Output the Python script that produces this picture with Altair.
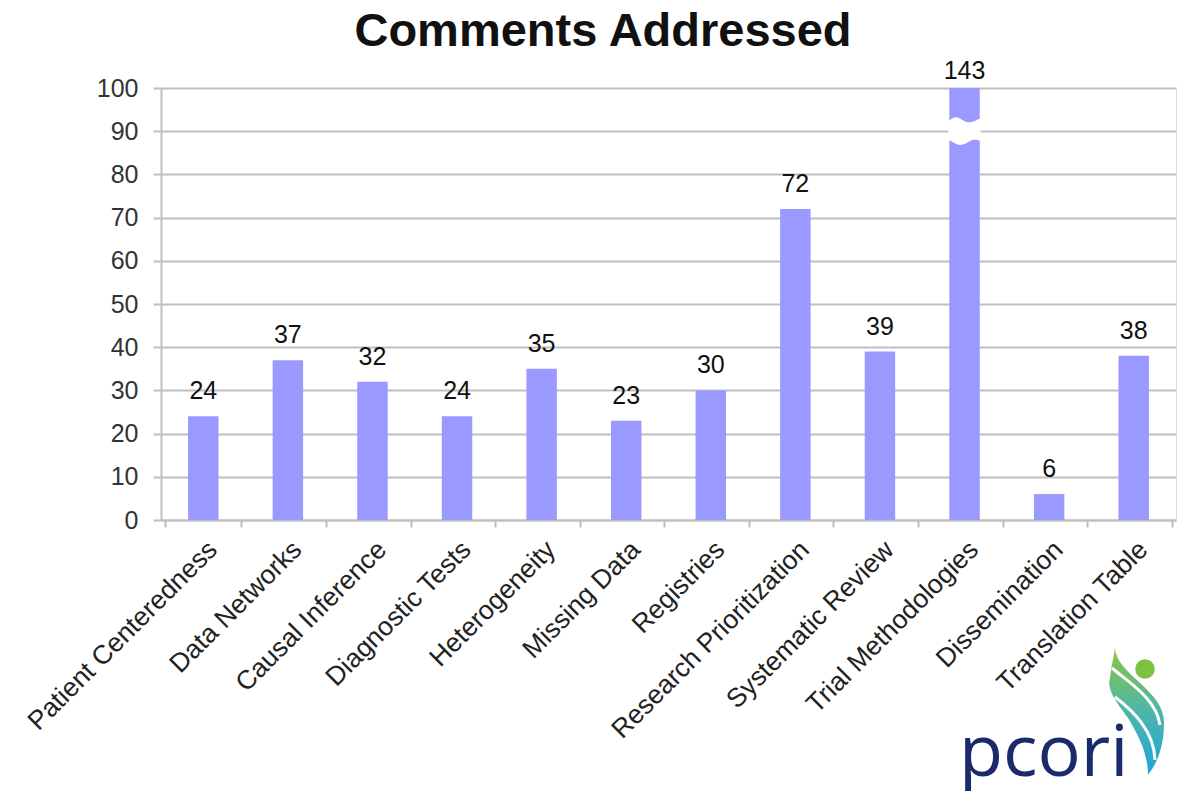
import altair as alt
import pandas as pd

categories = ["Patient Centeredness", "Data Networks", "Causal Inference", "Diagnostic Tests",
              "Heterogeneity", "Missing Data", "Registries", "Research Prioritization",
              "Systematic Review", "Trial Methodologies", "Dissemination", "Translation Table"]
values = [24, 37, 32, 24, 35, 23, 30, 72, 39, 143, 6, 38]
axis_max = 100
break_at = 90
title_text = "Comments Addressed"

df = pd.DataFrame({"cat": categories, "value": values})
df["shown"] = df["value"].clip(upper=axis_max)

FONT = "Liberation Sans"
BAR = "#9999FF"
GRID = "#BFBFBF"
FS = 25

base = alt.Chart(df)

x_enc = alt.X("cat:N", sort=categories, title=None,
              axis=alt.Axis(labelAngle=-45, labelAlign="right", labelBaseline="top",
                            labelFontSize=26.5, labelFont=FONT, labelColor="#222222",
                            labelPadding=9, domainColor=GRID, domainWidth=2,
                            tickColor=GRID, tickWidth=2, tickSize=7, tickBand="extent",
                            labelLimit=500))
y_enc = alt.Y("shown:Q", title=None, scale=alt.Scale(domain=[0, axis_max], nice=False),
              axis=alt.Axis(values=list(range(0, 101, 10)), labelFontSize=FS, labelFont=FONT,
                            labelColor="#333333", labelPadding=15, tickSize=8,
                            tickColor=GRID, tickWidth=2, domainColor=GRID, domainWidth=2,
                            gridColor=GRID, gridWidth=2))

bars = base.mark_bar(color=BAR, width=alt.RelativeBandSize(0.4)).encode(x=x_enc, y=y_enc)

labels = base.transform_filter(alt.datum.value <= axis_max).mark_text(
    font=FONT, fontSize=FS, color="#111111", baseline="alphabetic", dy=-17
).encode(x=alt.X("cat:N", sort=categories), y="shown:Q", text="value:Q")

labels_cap = base.transform_filter(alt.datum.value > axis_max).mark_text(
    font=FONT, fontSize=FS, color="#111111", baseline="alphabetic", dy=-9
).encode(x=alt.X("cat:N", sort=categories), y="shown:Q", text="value:Q")

wave = ("M-0.95,-0.55 Q-0.6,-1.0 -0.2,-0.7 T0.6,-0.6 T0.95,-0.75 L0.95,0.6 "
        "Q0.6,0.35 0.2,0.65 T-0.6,0.7 T-0.95,0.55 Z")
brk = base.transform_filter(alt.datum.value > axis_max).transform_calculate(
    brk=str(break_at)
).mark_point(shape=wave, filled=True, color="white", opacity=1, size=1156, strokeWidth=0
).encode(x=alt.X("cat:N", sort=categories), y="brk:Q")

one = alt.Data(values=[{"a": 1}])

title = alt.Chart(one).mark_text(
    text=title_text, font=FONT, fontSize=47, fontWeight="bold", color="#111111",
    align="center", baseline="alphabetic"
).encode(x=alt.value(603 - 161), y=alt.value(46 - 88))

logo_text = alt.Chart(one).mark_text(
    text="pcori", font="Open Sans", fontSize=72, color="#1B2A6B", align="left",
    baseline="alphabetic"
).encode(x=alt.value(959 - 161), y=alt.value(776 - 88))

swoosh = ("M-0.625,-1.55 C-0.6,-0.9 0.6,-0.5 0.6,0.3 C0.6,0.9 0.45,1.3 0.2,1.62 "
          "C0.2,1.1 -0.05,0.6 -0.3,0.2 C-0.55,-0.15 -0.85,-0.5 -0.75,-0.8 "
          "C-0.72,-1.1 -0.65,-1.35 -0.625,-1.55 Z")
logo_swoosh = alt.Chart(one).mark_point(
    shape=swoosh, filled=True, size=6400, opacity=1, strokeWidth=0,
    color=alt.LinearGradient(gradient="linear", x1=0, y1=0, x2=0, y2=1,
                             stops=[alt.GradientStop(color="#8CC63F", offset=0),
                                    alt.GradientStop(color="#4DB6A8", offset=0.5),
                                    alt.GradientStop(color="#1EA5DE", offset=1)])
).encode(x=alt.value(1140 - 161), y=alt.value(710 - 88))

gap1 = "M-0.7,-1.05 C-0.3,-0.7 0.4,-0.3 0.5,0.375"
gap2 = "M-0.625,-0.325 C-0.2,0 0.35,0.5 0.375,1.25"
logo_gap1 = alt.Chart(one).mark_point(
    shape=gap1, filled=False, size=6400, opacity=1, color="white", strokeWidth=3
).encode(x=alt.value(1140 - 161), y=alt.value(710 - 88))
logo_gap2 = alt.Chart(one).mark_point(
    shape=gap2, filled=False, size=6400, opacity=1, color="white", strokeWidth=3
).encode(x=alt.value(1140 - 161), y=alt.value(710 - 88))

logo_dot = alt.Chart(one).mark_point(
    shape="circle", filled=True, size=380, opacity=1, color="#7DC142", strokeWidth=0
).encode(x=alt.value(1145 - 161), y=alt.value(669 - 88))

chart = alt.layer(bars, labels, labels_cap, brk, title, logo_text, logo_swoosh,
                  logo_gap1, logo_gap2, logo_dot).properties(
    width=1015, height=432,
    autosize=alt.AutoSizeParams(type="none"),
    padding={"left": 153, "top": 80, "right": 2, "bottom": 271},
).configure_view(stroke=None).configure(background="white")

chart.save("out.html", embed_options={"renderer": "svg", "actions": False})
